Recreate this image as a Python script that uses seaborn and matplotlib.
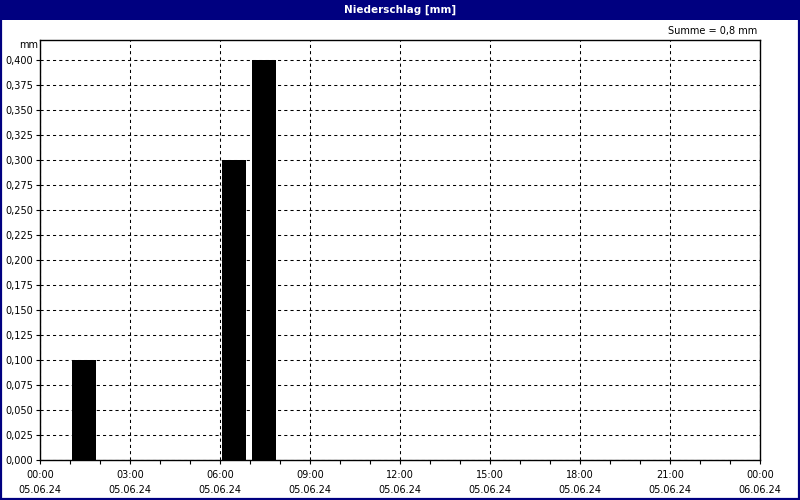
import matplotlib
matplotlib.use("Agg")
import matplotlib.pyplot as plt
import seaborn as sns
import pandas as pd
from matplotlib.patches import Rectangle

# ---- data ----
hours = list(range(24))
rain_mm = [0.0, 0.1, 0.0, 0.0, 0.0, 0.0, 0.3, 0.4, 0.0, 0.0, 0.0, 0.0,
           0.0, 0.0, 0.0, 0.0, 0.0, 0.0, 0.0, 0.0, 0.0, 0.0, 0.0, 0.0]
tick_hours = [0, 3, 6, 9, 12, 15, 18, 21, 24]
tick_times = ["00:00", "03:00", "06:00", "09:00", "12:00", "15:00", "18:00", "21:00", "00:00"]
tick_dates = ["05.06.24"] * 8 + ["06.06.24"]
y_ticks = [i * 0.025 for i in range(17)]
title = "Niederschlag [mm]"
sum_text = "Summe = 0,8 mm"

df = pd.DataFrame({"center": [h + 0.47 for h in hours], "mm": rain_mm})

sns.set_theme(style="white")
plt.rcParams["font.family"] = ["DejaVu Sans"]
plt.rcParams["text.color"] = "black"
plt.rcParams["xtick.color"] = "black"
plt.rcParams["ytick.color"] = "black"

fig = plt.figure(figsize=(8, 5), dpi=100)
fig.patch.set_facecolor("white")
ax = fig.add_axes([40 / 800, 40 / 500, 720 / 800, 420 / 500])

sns.barplot(data=df, x="center", y="mm", native_scale=True, width=0.8,
            color="black", saturation=1, linewidth=0, ax=ax, errorbar=None)

ax.set_xlim(0, 24)
ax.set_ylim(0, 0.42)
ax.set_xticks(tick_hours)
ax.set_xticklabels([f"{t}\n{d}" for t, d in zip(tick_times, tick_dates)],
                   fontsize=7, linespacing=1.65, color="black")
ax.set_xticks(range(25), minor=True)
ax.set_yticks(y_ticks)
ax.set_yticklabels([f"{v:.3f}".replace(".", ",") for v in y_ticks], fontsize=7, color="black")
ax.set_xlabel("")
ax.set_ylabel("")
ax.tick_params(axis="x", which="both", direction="out", length=3, width=0.8,
               color="black", pad=4, bottom=True)
ax.tick_params(axis="y", which="major", direction="out", length=3, width=0.8,
               color="black", pad=2, left=True)

for spine in ax.spines.values():
    spine.set_visible(True)
    spine.set_color("black")
    spine.set_linewidth(1.0)

ax.set_axisbelow(False)
ax.grid(True, which="major", color="black", linestyle=(0, (3, 3)), linewidth=0.75)
ax.set_facecolor("white")

# texts
fig.text(38 / 800, 1 - 45 / 500, "mm", ha="right", va="center", fontsize=7, color="black")
fig.text(757 / 800, 1 - 31 / 500, sum_text, ha="right", va="center", fontsize=7, color="black")

# title bar and window border
navy = "#000080"
fig.patches.append(Rectangle((0, 1 - 20 / 500), 1, 20 / 500, transform=fig.transFigure,
                             facecolor=navy, edgecolor="none", zorder=0))
fig.text(0.5, 1 - 10 / 500, title, ha="center", va="center", fontsize=7.5,
         color="white", fontweight="bold")
fig.patches.append(Rectangle((1 / 800, 1 / 500), 798 / 800, 498 / 500, transform=fig.transFigure,
                             facecolor="none", edgecolor=navy, linewidth=1.6, zorder=0))

fig.savefig("out.png", dpi=100)
